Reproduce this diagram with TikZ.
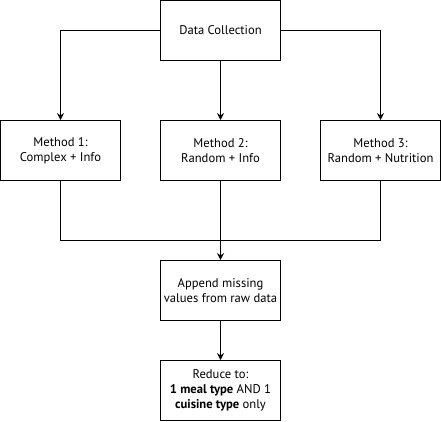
\documentclass[tikz,border=0pt]{standalone}
\usepackage{fontspec}
\setmainfont{PT Sans}
\usetikzlibrary{arrows.meta}
\begin{document}
\begin{tikzpicture}[x=1pt,y=-1pt,
  box/.style={draw=black,line width=1pt,fill=white,minimum width=120pt,minimum height=60pt,align=center,inner sep=0pt,font=\fontsize{12.6pt}{15pt}\selectfont},
  conn/.style={line width=1pt,-{Stealth[length=7pt,width=7pt,inset=2.5pt]}},
  line/.style={line width=1pt}]
\useasboundingbox (0,0) rectangle (441,421);
\node[box] (dc) at (220.5,30.5) {Data Collection};
\node[box] (m1) at (60.5,150.5) {Method 1:\\Complex + Info};
\node[box] (m2) at (220.5,150.5) {Method 2:\\Random + Info};
\node[box] (m3) at (380.5,150.5) {Method 3:\\Random + Nutrition};
\node[box] (ap) at (220.5,290.5) {Append missing\\values from raw data};
\node[box] (rd) at (220.5,390.5) {Reduce to:\\\textbf{1 meal type} AND 1\\\textbf{cuisine type} only};
\coordinate (j) at (220.5,240.5);
\draw[conn] (dc.west) -| (m1.north);
\draw[conn] (dc.east) -| (m3.north);
\draw[conn] (dc.south) -- (m2.north);
\draw[line] (m1.south) |- (j);
\draw[line] (m3.south) |- (j);
\draw[conn] (m2.south) -- (ap.north);
\draw[conn] (ap.south) -- (rd.north);
\end{tikzpicture}
\end{document}
